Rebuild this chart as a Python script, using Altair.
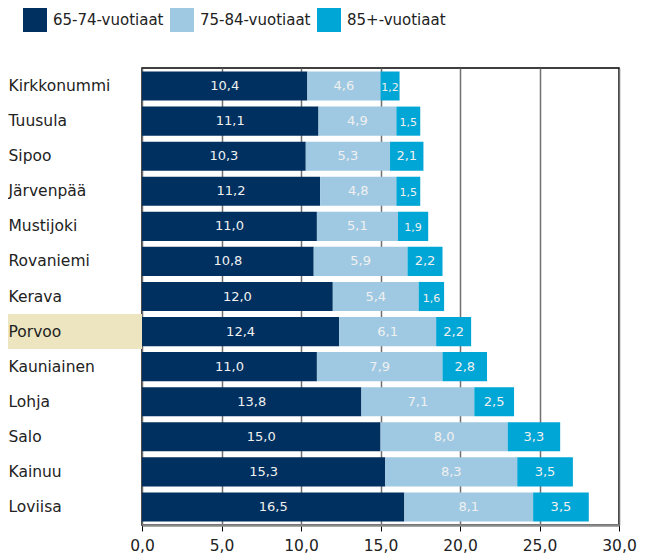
import altair as alt
import pandas as pd

cities = ["Kirkkonummi", "Tuusula", "Sipoo", "Järvenpää", "Mustijoki", "Rovaniemi",
          "Kerava", "Porvoo", "Kauniainen", "Lohja", "Salo", "Kainuu", "Loviisa"]
age_65_74 = [10.4, 11.1, 10.3, 11.2, 11.0, 10.8, 12.0, 12.4, 11.0, 13.8, 15.0, 15.3, 16.5]
age_75_84 = [4.6, 4.9, 5.3, 4.8, 5.1, 5.9, 5.4, 6.1, 7.9, 7.1, 8.0, 8.3, 8.1]
age_85 = [1.2, 1.5, 2.1, 1.5, 1.9, 2.2, 1.6, 2.2, 2.8, 2.5, 3.3, 3.5, 3.5]
groups = ["65-74-vuotiaat", "75-84-vuotiaat", "85+-vuotiaat"]
colors = ["#00305F", "#9FC9E2", "#00A6D6"]
highlight = "Porvoo"
x_ticks = [0, 5, 10, 15, 20, 25, 30]

rows = []
for i, c in enumerate(cities):
    for k, vals in enumerate([age_65_74, age_75_84, age_85]):
        rows.append({"city": c, "group": groups[k], "order": k, "value": vals[i]})
df = pd.DataFrame(rows)
hl = pd.DataFrame({"city": [highlight]})

y_enc = alt.Y("city:N", sort=cities, title=None,
              scale=alt.Scale(paddingInner=0.17, paddingOuter=0.1),
              axis=alt.Axis(labelAlign="left", labelPadding=134, ticks=False, domain=False,
                            labelFontSize=15.5, labelColor="#222222", zindex=1,
                            labelFont="DejaVu Sans"))

x_scale = alt.Scale(domain=[0, 30], nice=False)

hl_layer = alt.Chart(hl).mark_bar(height=35, color="#ECE5BF").encode(
    y=alt.Y("city:N", sort=cities),
    x=alt.value(-134), x2=alt.value(0)
)

base = alt.Chart(df).transform_stack(
    stack="value", groupby=["city"], as_=["v0", "v1"],
    sort=[alt.SortField("order", order="ascending")]
).transform_calculate(
    mid="(datum.v0 + datum.v1) / 2",
    lab="replace(format(datum.value, '.1f'), '.', ',')",
    small="datum.value < 2 ? 1 : 0"
)

bars = base.mark_bar().encode(
    y=y_enc,
    x=alt.X("v0:Q", scale=x_scale, title=None,
            axis=alt.Axis(values=x_ticks, labelExpr="replace(format(datum.value, '.1f'), '.', ',')",
                          grid=True, gridColor="#707070", gridWidth=1.5,
                          domainColor="#8a8a8a", domainWidth=2.5, labelFlush=False,
                          tickColor="#000000", tickSize=6, tickWidth=1,
                          labelFontSize=15.5, labelColor="#222222", labelPadding=7)),
    x2="v1:Q",
    color=alt.Color("group:N", scale=alt.Scale(domain=groups, range=colors),
                    legend=alt.Legend(title=None, orient="none", legendX=-119, legendY=-60,
                                      direction="horizontal", columns=3,
                                      symbolType="square", symbolSize=576,
                                      symbolStrokeWidth=0, symbolOpacity=1,
                                      labelFontSize=15, labelColor="#222222",
                                      labelOffset=6, columnPadding=6, padding=0)),
    order=alt.Order("order:Q")
)

labels_big = base.transform_filter("datum.small == 0").mark_text(
    color="#F0F0F0", fontSize=13, baseline="middle", align="center"
).encode(
    y=alt.Y("city:N", sort=cities),
    x=alt.X("mid:Q", scale=x_scale),
    text="lab:N"
)

labels_small = base.transform_filter("datum.small == 1").mark_text(
    color="#F0F0F0", fontSize=11, baseline="middle", align="center", dy=2
).encode(
    y=alt.Y("city:N", sort=cities),
    x=alt.X("mid:Q", scale=x_scale),
    text="lab:N"
)

chart = alt.layer(hl_layer, bars, labels_big, labels_small).properties(
    width=477, height=457, padding=0
).configure(font="DejaVu Sans").configure_view(
    stroke="#000000", strokeWidth=1.5
)

chart.save("out.html", embed_options={"renderer": "svg", "actions": False})
